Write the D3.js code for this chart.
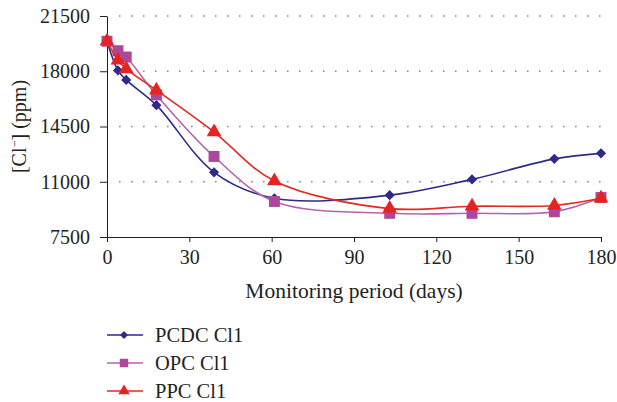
<!DOCTYPE html>
<html>
<head>
<meta charset="utf-8">
<script src="https://cdn.jsdelivr.net/npm/d3@7"></script>
<style>
  body { margin: 0; background: #fff; }
  text { font-family: "Liberation Serif", "DejaVu Serif", serif; fill: #231f20; }
</style>
</head>
<body>
<svg id="chart" width="617" height="402"></svg>
<script>
// Chart data
var days = [0, 4, 7, 18, 39, 61, 103, 133, 163, 180];
var pcdcValues = [19900, 18050, 17450, 15850, 11600, 9950, 10150, 11150, 12450, 12800];
var opcValues = [19900, 19300, 18900, 16500, 12600, 9750, 9000, 9000, 9100, 10000];
var ppcValues = [19900, 18700, 18150, 16800, 14150, 11050, 9300, 9450, 9500, 9950];
var seriesNames = ['PCDC Cl1', 'OPC Cl1', 'PPC Cl1'];
var xTicks = [0, 30, 60, 90, 120, 150, 180];
var yTicks = [7500, 11000, 14500, 18000, 21500];

var svg = d3.select('#chart');
var plotLeft = 107, plotRight = 601, plotTop = 16, plotBottom = 237;

var x = d3.scaleLinear().domain([0, 180]).range([plotLeft, plotRight]);
var y = d3.scaleLinear().domain([7500, 21500]).range([plotBottom, plotTop]);

// dotted gridlines
svg.append('g').selectAll('line')
    .data(yTicks.slice(1))
    .enter().append('line')
    .attr('x1', plotLeft + 12).attr('x2', plotRight)
    .attr('y1', function(d) { return y(d); })
    .attr('y2', function(d) { return y(d); })
    .attr('stroke', '#8c8c8c')
    .attr('stroke-width', 1.6)
    .attr('stroke-dasharray', '1.6 10.4');

// axes
var xAxis = svg.append('g')
    .attr('transform', 'translate(0,' + plotBottom + ')')
    .call(d3.axisBottom(x).tickValues(xTicks).tickSize(5).tickPadding(8).tickSizeOuter(0));
var yAxis = svg.append('g')
    .attr('transform', 'translate(' + plotLeft + ',0)')
    .call(d3.axisLeft(y).tickValues(yTicks).tickSize(7).tickPadding(10).tickSizeOuter(0).tickFormat(d3.format('d')));

[xAxis, yAxis].forEach(function(a) {
    a.select('.domain').attr('stroke', '#231f20');
    a.selectAll('.tick line').attr('stroke', '#231f20');
    a.selectAll('.tick text').attr('font-size', 20).attr('font-family', '"Liberation Serif", serif').attr('fill', '#231f20');
});

// axis titles
svg.append('text')
    .attr('x', (plotLeft + plotRight) / 2).attr('y', 298)
    .attr('text-anchor', 'middle')
    .attr('font-size', 21.5)
    .text('Monitoring period (days)');

var yTitle = svg.append('text')
    .attr('transform', 'translate(26,' + ((plotTop + plotBottom) / 2) + ') rotate(-90)')
    .attr('text-anchor', 'middle')
    .attr('font-size', 20);
yTitle.append('tspan').text('[Cl');
yTitle.append('tspan').attr('font-size', 12.5).attr('dy', -7).text('\u2212');
yTitle.append('tspan').attr('dy', 7).text('] (ppm)');

// series (diamond = square turned 45deg)
var series = [
    { name: seriesNames[0], values: pcdcValues, line: '#2e2a86', fill: '#2e2a86', symbol: d3.symbolSquare, rot: 45, size: 52 },
    { name: seriesNames[1], values: opcValues, line: '#b862ad', fill: '#ad479b', symbol: d3.symbolSquare, rot: 0, size: 120 },
    { name: seriesNames[2], values: ppcValues, line: '#e52a23', fill: '#e52421', symbol: d3.symbolTriangle, rot: 0, size: 95 }
];

var line = d3.line()
    .x(function(d) { return x(d[0]); })
    .y(function(d) { return y(d[1]); })
    .curve(d3.curveCatmullRom.alpha(0.5));

series.forEach(function(s) {
    var pts = days.map(function(d, i) { return [d, s.values[i]]; });
    var g = svg.append('g');
    g.append('path')
        .attr('d', line(pts))
        .attr('fill', 'none')
        .attr('stroke', s.line)
        .attr('stroke-width', 1.6);
    g.selectAll('path.mark')
        .data(pts)
        .enter().append('path')
        .attr('class', 'mark')
        .attr('d', d3.symbol().type(s.symbol).size(s.size))
        .attr('transform', function(d) {
            return 'translate(' + x(d[0]) + ',' + y(d[1]) + ') rotate(' + s.rot + ')';
        })
        .attr('fill', s.fill);
});

// legend
var legend = svg.append('g');
series.forEach(function(s, i) {
    var ly = 335 + i * 28;
    legend.append('line')
        .attr('x1', 107).attr('x2', 143)
        .attr('y1', ly).attr('y2', ly)
        .attr('stroke', s.line).attr('stroke-width', 1.6);
    legend.append('path')
        .attr('d', d3.symbol().type(s.symbol).size(s.size * 0.6))
        .attr('transform', 'translate(124,' + ly + ') rotate(' + s.rot + ')')
        .attr('fill', s.fill);
    legend.append('text')
        .attr('x', 155).attr('y', ly + 7)
        .attr('font-size', 20.5)
        .text(s.name);
});
</script>
</body>
</html>
